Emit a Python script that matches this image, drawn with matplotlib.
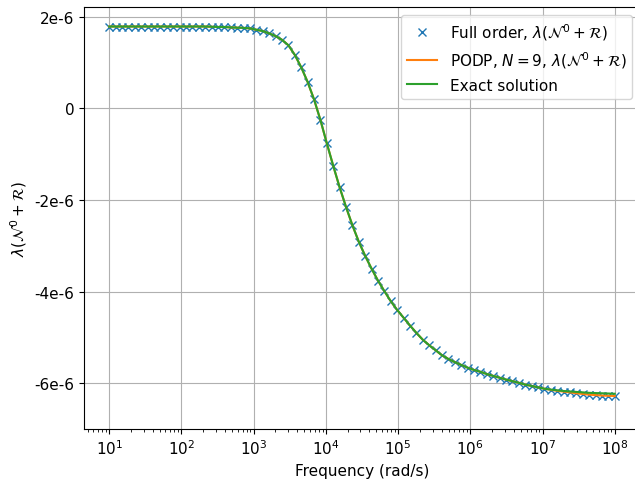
import numpy as np
import matplotlib
matplotlib.use("Agg")
import matplotlib.pyplot as plt
from matplotlib.ticker import FuncFormatter

plt.rcParams['font.size'] = 11

# frequency sweep (rad/s)
omega = np.logspace(1, 8, 80)

# full order eigenvalue lambda(N0 + R), units of 1e-6
full_order = [
    1.79, 1.79, 1.79, 1.79, 1.79, 1.79, 1.79, 1.79, 1.79, 1.79,
    1.79, 1.79, 1.79, 1.79, 1.79, 1.79, 1.785, 1.78, 1.78, 1.77,
    1.765, 1.76, 1.75, 1.72, 1.69, 1.64, 1.58, 1.50, 1.38, 1.17,
    0.90, 0.58, 0.20, -0.25, -0.76, -1.25, -1.72, -2.15, -2.55, -2.91,
    -3.22, -3.50, -3.76, -3.99, -4.21, -4.40, -4.57, -4.74, -4.90, -5.05,
    -5.17, -5.28, -5.39, -5.47, -5.54, -5.60, -5.66, -5.71, -5.75, -5.80,
    -5.84, -5.88, -5.92, -5.955, -5.99, -6.03, -6.06, -6.09, -6.12, -6.145,
    -6.165, -6.185, -6.20, -6.22, -6.235, -6.25, -6.26, -6.27, -6.275, -6.28,
]

# PODP reduced order model, N = 9
podp = list(full_order)

# exact (analytical) solution
exact = full_order[:68] + [
    -6.12, -6.14, -6.155, -6.17, -6.18, -6.19, -6.20, -6.21, -6.215, -6.22,
    -6.225, -6.23,
]

full_order = np.array(full_order) * 1e-6
podp = np.array(podp) * 1e-6
exact = np.array(exact) * 1e-6

fig = plt.figure(figsize=(6.35, 4.81), dpi=100)
ax = fig.add_axes([84 / 635, 51 / 481, 556 / 635, 421.7 / 481])

lab = r'$\lambda(\mathcal{N}^0+\mathcal{R})$'
ax.plot(omega, full_order, 'x', color='C0', label='Full order, ' + lab)
ax.plot(omega, podp, '-', color='C1', label='PODP, $N=9$, ' + lab)
ax.plot(omega, exact, '-', color='C2', label='Exact solution')

ax.set_xscale('log')
ax.set_xlim(10 ** 0.65, 10 ** 8.35)
ax.set_ylim(-7.0e-6, 2.21e-6)
ax.set_yticks([-6e-6, -4e-6, -2e-6, 0, 2e-6])


def fmt(v, pos):
    if abs(v) < 1e-12:
        return '0'
    return '%de-6' % round(v * 1e6)


ax.yaxis.set_major_formatter(FuncFormatter(fmt))
ax.grid(True)
ax.set_xlabel('Frequency (rad/s)')
ax.set_ylabel(lab)
ax.legend(loc='upper right')

fig.savefig('out.png', dpi=100)
